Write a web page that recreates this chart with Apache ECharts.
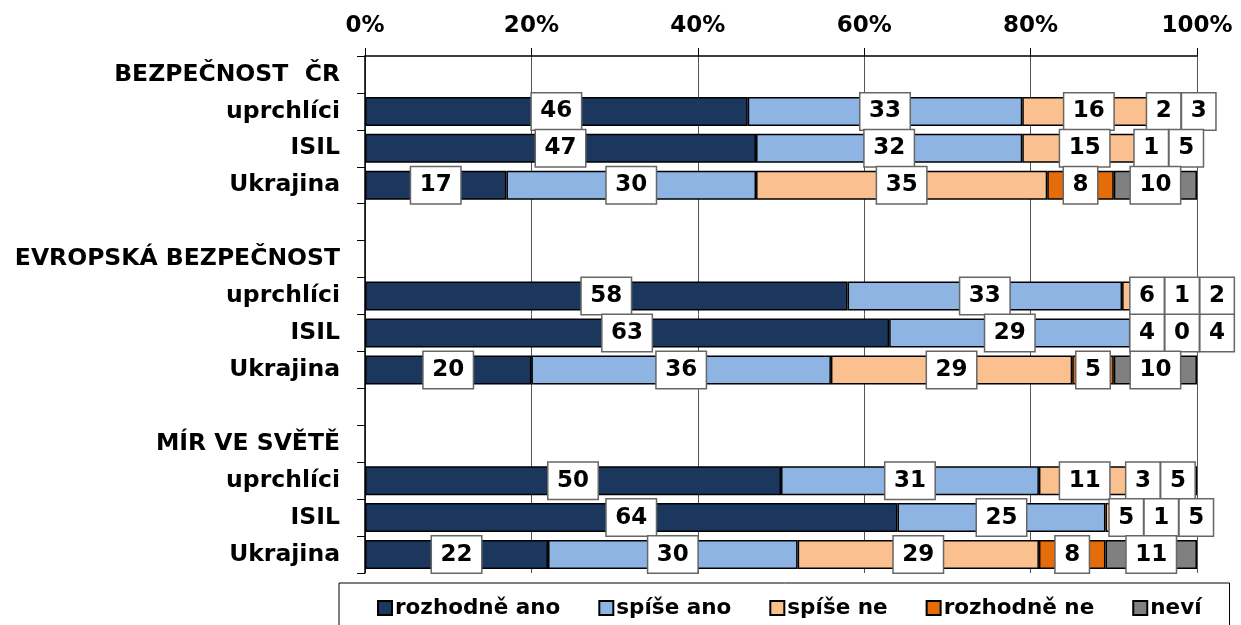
<!DOCTYPE html>
<html>
<head>
<meta charset="utf-8">
<script src="https://cdn.jsdelivr.net/npm/echarts@6/dist/echarts.min.js"></script>
<style>
  html, body { margin: 0; padding: 0; background: #fff; }
  #chart { width: 1241px; height: 625px; }
</style>
</head>
<body>
<div id="chart"></div>
<script>
// ---- data ----
const groups = ['BEZPEČNOST  ČR', 'EVROPSKÁ BEZPEČNOST', 'MÍR VE SVĚTĚ'];
const topics = ['uprchlíci', 'ISIL', 'Ukrajina'];
const seriesNames = ['rozhodně ano', 'spíše ano', 'spíše ne', 'rozhodně ne', 'neví'];
const rozhodneAno = [46, 47, 17, 58, 63, 20, 50, 64, 22];
const spiseAno    = [33, 32, 30, 33, 29, 36, 31, 25, 30];
const spiseNe     = [16, 15, 35,  6,  4, 29, 11,  5, 29];
const rozhodneNe  = [ 2,  1,  8,  1,  0,  5,  3,  1,  8];
const nevi        = [ 3,  5, 10,  2,  4, 10,  5,  5, 11];
const xTicks = [0, 20, 40, 60, 80, 100];

// ---- build category rows ----
const categories = [];
const rowCat = [];
groups.forEach((g, gi) => {
  if (gi > 0) categories.push('');
  categories.push(g);
  topics.forEach(t => { rowCat.push(categories.length); categories.push(t); });
});
const valueSets = [rozhodneAno, spiseAno, spiseNe, rozhodneNe, nevi];
const colors = ['#1B375E', '#8EB4E3', '#FAC090', '#E46C0A', '#808080'];

function toRowData(arr) {
  const out = categories.map(() => '-');
  arr.forEach((v, k) => { out[rowCat[k]] = v; });
  return out;
}

const FONT = '"DejaVu Sans", Verdana, sans-serif';
const FS = 23;
const DIGIT = 16, PADX = 8.5, GAP = 2;

const barSeries = seriesNames.map((name, i) => ({
  name: name,
  type: 'bar',
  stack: 'total',
  barWidth: 29,
  data: toRowData(valueSets[i]),
  itemStyle: { color: colors[i], borderColor: '#000', borderWidth: 1.5 },
  emphasis: { disabled: true },
  z: 2
}));

const labelSeries = {
  type: 'custom',
  coordinateSystem: 'cartesian2d',
  silent: true,
  z: 10,
  encode: { x: 0, y: 1 },
  data: rowCat.map(c => [50, c]),
  renderItem: function (params, api) {
    const k = params.dataIndex;
    const cat = api.value(1);
    let cum = 0;
    const boxes = valueSets.map(arr => {
      const v = arr[k];
      const c = api.coord([cum + v / 2, cat]);
      cum += v;
      return { x: c[0], y: c[1], w: String(v).length * DIGIT + PADX * 2, text: String(v) };
    });
    for (let i = 1; i < boxes.length; i++) {
      const prevRight = boxes[i - 1].x + boxes[i - 1].w / 2;
      const left = boxes[i].x - boxes[i].w / 2;
      if (left < prevRight + GAP) boxes[i].x += prevRight + GAP - left;
    }
    return {
      type: 'group',
      children: boxes.map(b => ({
        type: 'text',
        x: b.x,
        y: b.y,
        style: {
          text: b.text,
          align: 'center',
          verticalAlign: 'middle',
          font: 'bold ' + FS + 'px ' + FONT,
          fill: '#000',
          backgroundColor: '#fff',
          borderColor: '#666',
          borderWidth: 1.5,
          padding: [7, PADX, 6, PADX],
          lineHeight: 23
        }
      }))
    };
  }
};

const chart = echarts.init(document.getElementById('chart'), null, { renderer: 'canvas' });
chart.setOption({
  animation: false,
  backgroundColor: '#fff',
  color: colors,
  grid: { left: 365, right: 44, top: 56, bottom: 52, containLabel: false },
  xAxis: {
    type: 'value',
    position: 'top',
    min: xTicks[0],
    max: xTicks[xTicks.length - 1],
    interval: xTicks[1] - xTicks[0],
    axisLine: { show: true, lineStyle: { color: '#000', width: 1.5 } },
    axisTick: { show: true, length: 8, lineStyle: { color: '#000' } },
    axisLabel: {
      formatter: '{value}%',
      fontFamily: FONT, fontWeight: 'bold', fontSize: FS, color: '#000', margin: 18
    },
    splitLine: { show: true, lineStyle: { color: '#555', width: 1 } }
  },
  yAxis: {
    type: 'category',
    inverse: true,
    data: categories,
    axisLine: { show: true, lineStyle: { color: '#000', width: 1.5 } },
    axisTick: { show: true, length: 8, lineStyle: { color: '#000' } },
    axisLabel: {
      interval: 0,
      fontFamily: FONT, fontWeight: 'bold', fontSize: 23.5, color: '#000', margin: 25
    }
  },
  legend: {
    data: seriesNames,
    icon: 'rect',
    left: 339,
    right: 0,
    top: 583,
    itemWidth: 14,
    itemHeight: 14,
    itemGap: 38,
    padding: [14, 28, 12, 38],
    borderColor: '#000',
    borderWidth: 1,
    textStyle: { fontFamily: FONT, fontWeight: 'bold', fontSize: 21.5, color: '#000', padding: [0, 0, 0, -2] }
  },
  series: barSeries.concat([labelSeries])
});
</script>
</body>
</html>
